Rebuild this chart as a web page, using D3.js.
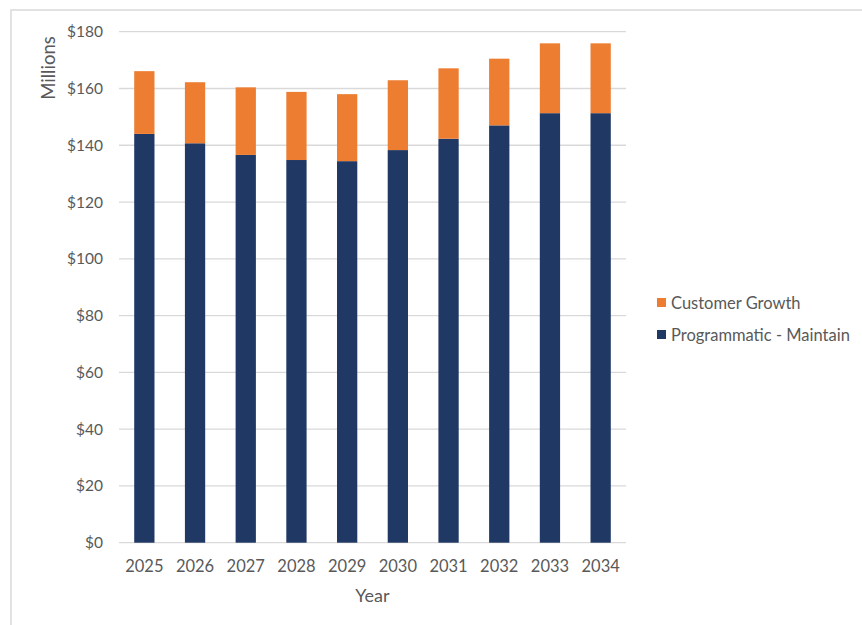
<!DOCTYPE html>
<html>
<head>
<meta charset="utf-8">
<script src="https://cdn.jsdelivr.net/npm/d3@7"></script>
<style>
  html, body { margin: 0; padding: 0; background: #fff; }
  svg { display: block; }
  text { font-family: Lato, "Open Sans", "Liberation Sans", sans-serif; fill: #595959; }
</style>
</head>
<body>
<svg id="chart" width="862" height="625"></svg>
<script>
// Annual capital plan, millions of dollars
const years = ["2025", "2026", "2027", "2028", "2029", "2030", "2031", "2032", "2033", "2034"];
const maintain = [144.0, 140.7, 136.6, 134.8, 134.4, 138.3, 142.3, 147.0, 151.3, 151.3];
const growth = [22.1, 21.5, 23.8, 24.0, 23.6, 24.6, 24.8, 23.5, 24.6, 24.6];
const seriesNames = ["Programmatic - Maintain", "Customer Growth"];
const seriesColors = ["#203864", "#ED7D31"];
const yTicks = [0, 20, 40, 60, 80, 100, 120, 140, 160, 180];

const svg = d3.select("#chart");
const W = 862, H = 625;
const plot = { left: 119, right: 626, top: 31.7, bottom: 542.7 };

// chart frame (left and top edges visible)
svg.append("path")
  .attr("d", `M11,${H} L11,10 L${W},10`)
  .attr("fill", "none")
  .attr("stroke", "#D9D9D9")
  .attr("stroke-width", 1.5);

const x = d3.scaleBand().domain(years).range([plot.left, plot.right]).paddingInner(0.6).paddingOuter(0.3);
const y = d3.scaleLinear().domain([0, 180]).range([plot.bottom, plot.top]);

// gridlines
svg.append("g")
  .selectAll("line")
  .data(yTicks)
  .join("line")
  .attr("x1", plot.left).attr("x2", plot.right)
  .attr("y1", d => y(d)).attr("y2", d => y(d))
  .attr("stroke", "#D9D9D9")
  .attr("stroke-width", 1.3);

// y axis labels
const yAxis = d3.axisLeft(y).tickValues(yTicks).tickFormat(d => "$" + d).tickSize(0).tickPadding(16);
const gy = svg.append("g").attr("transform", `translate(${plot.left},0)`).call(yAxis);
gy.select(".domain").remove();
gy.selectAll("text").style("font-size", "15.5px").attr("fill", "#595959").attr("font-family", null);

// x axis labels
const xAxis = d3.axisBottom(x).tickSize(0).tickPadding(18);
const gx = svg.append("g").attr("transform", `translate(0,${plot.bottom})`).call(xAxis);
gx.select(".domain").remove();
gx.selectAll("text").style("font-size", "16.5px").attr("fill", "#595959").attr("font-family", null);

// stacked bars
const rows = years.map((yr, i) => ({ year: yr, maintain: maintain[i], growth: growth[i] }));
const stack = d3.stack().keys(["maintain", "growth"]);
const layers = stack(rows);

svg.append("g")
  .selectAll("g")
  .data(layers)
  .join("g")
  .attr("fill", (d, i) => seriesColors[i])
  .selectAll("rect")
  .data(d => d)
  .join("rect")
  .attr("x", d => x(d.data.year))
  .attr("width", x.bandwidth())
  .attr("y", d => y(d[1]))
  .attr("height", d => y(d[0]) - y(d[1]));

// axis titles
svg.append("text")
  .attr("transform", "translate(55,68) rotate(-90)")
  .attr("text-anchor", "middle")
  .style("font-size", "18.5px")
  .text("Millions");

svg.append("text")
  .attr("x", (plot.left + plot.right) / 2)
  .attr("y", 602)
  .attr("text-anchor", "middle")
  .style("font-size", "18px")
  .text("Year");

// legend
const legendItems = [
  { name: seriesNames[1], color: seriesColors[1] },
  { name: seriesNames[0], color: seriesColors[0] }
];
const lg = svg.append("g").attr("transform", "translate(657,298)");
const li = lg.selectAll("g").data(legendItems).join("g")
  .attr("transform", (d, i) => `translate(0,${i * 32})`);
li.append("rect").attr("width", 9).attr("height", 9).attr("fill", d => d.color);
li.append("text").attr("x", 14).attr("y", 10.5).style("font-size", "16.5px").text(d => d.name);
</script>
</body>
</html>
